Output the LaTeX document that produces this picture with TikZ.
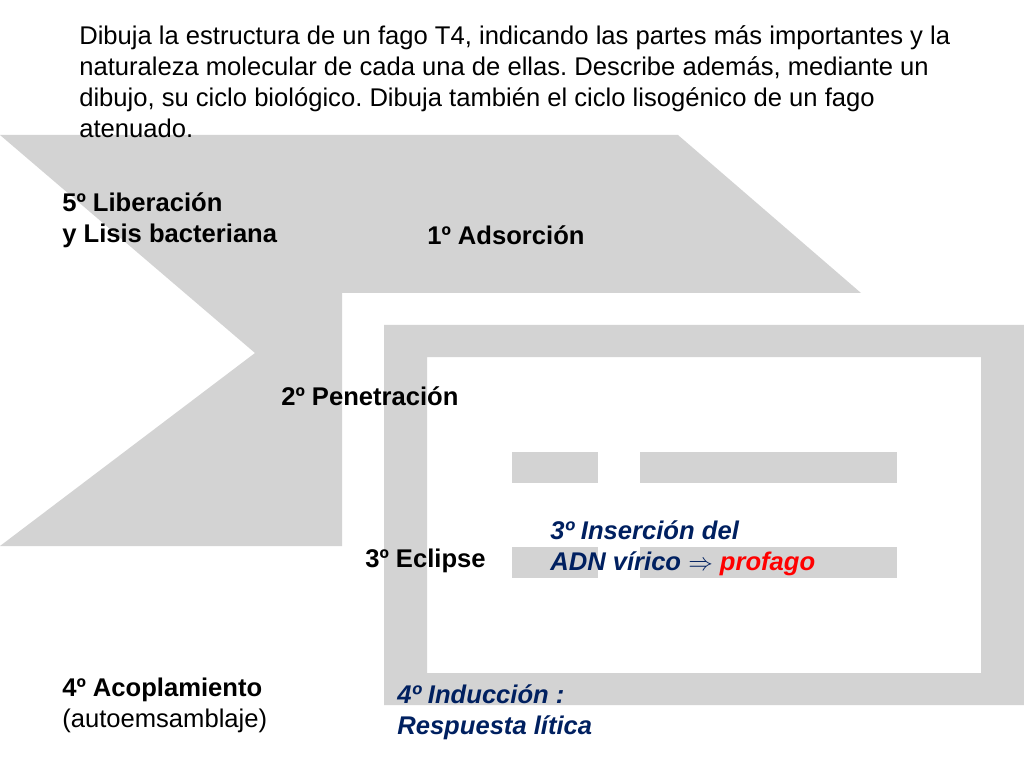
\documentclass[tikz,border=0pt]{standalone}
\usepackage{fontspec}
\setmainfont{Liberation Sans}
\frenchspacing
\definecolor{bandgray}{RGB}{211,211,211}
\definecolor{navy}{RGB}{0,32,96}
\definecolor{redtxt}{RGB}{255,0,0}
\begin{document}
\begin{tikzpicture}[x=0.703125pt,y=-0.703125pt,
  txt/.style={anchor=base west,inner sep=0pt,font=\fontsize{18}{21.8}\selectfont},
  bold/.style={txt,font=\fontsize{18}{21.8}\selectfont\bfseries},
  blue/.style={txt,font=\fontsize{18}{21.8}\selectfont\bfseries\itshape,text=navy},
  graybox/.style={fill=bandgray,draw=none}]
\useasboundingbox (0,0) rectangle (1024,768);
% large chevron band
\path[graybox] (0,135) -- (678,135) -- (861,293) -- (342,293) -- (342,546) -- (0,546) -- (255,353) -- cycle;
% frame
\path[graybox,even odd rule] (384,325) rectangle (1024,705) (427,357) rectangle (981,673);
% bars
\path[graybox] (512,452) rectangle (598,483);
\path[graybox] (640,452) rectangle (897,483);
\path[graybox] (512,547) rectangle (598,578);
\path[graybox] (640,547) rectangle (897,578);
% title
\node[txt] (t1) at (79,45) {Dibuja la estructura de un fago T4, indicando las partes más importantes y la};
\node[txt] (t2) at (79,76) {naturaleza molecular de cada una de ellas. Describe además, mediante un};
\node[txt] (t3) at (79,107) {dibujo, su ciclo biológico. Dibuja también el ciclo lisogénico de un fago};
\node[txt] (t4) at (79,138) {atenuado.};
% labels
\node[bold] (l5a) at (62,212) {5º Liberación};
\node[bold] (l5b) at (62,243) {y Lisis bacteriana};
\node[bold] (l1) at (427,245) {1º Adsorción};
\node[bold] (l2) at (281,405) {2º Penetración};
\node[bold] (l3) at (365,567) {3º Eclipse};
\node[blue] (i3a) at (550,539) {3º Inserción del};
\node[blue] (i3b) at (550,570) {ADN vírico {\normalfont\fontsize{18}{21.8}\selectfont$\Rightarrow$} \textcolor{redtxt}{profago}};
\node[bold] (l4a) at (62,696) {4º Acoplamiento};
\node[txt] (l4b) at (62,727) {(autoemsamblaje)};
\node[blue] (i4a) at (397,703) {4º Inducción :};
\node[blue] (i4b) at (397,734) {Respuesta lítica};
\end{tikzpicture}
\end{document}
